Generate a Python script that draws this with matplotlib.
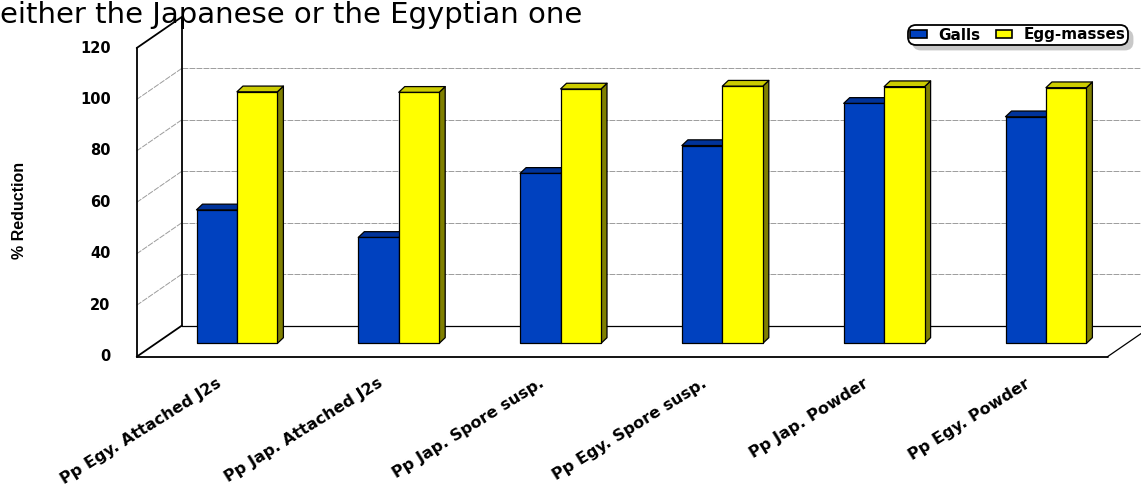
import matplotlib
matplotlib.use("Agg")
import matplotlib.pyplot as plt
from matplotlib.patches import Polygon, Patch

# ---- data -------------------------------------------------------------
categories = ["Pp Egy. Attached J2s", "Pp Jap. Attached J2s", "Pp Jap. Spore susp.",
              "Pp Egy. Spore susp.", "Pp Jap. Powder", "Pp Egy. Powder"]
galls = [51.9, 41.2, 66.1, 76.9, 93.3, 88.1]
egg_masses = [97.8, 97.6, 98.9, 100.0, 99.8, 99.4]
series_names = ["Galls", "Egg-masses"]
y_ticks = [0, 20, 40, 60, 80, 100, 120]
y_label = "% Reduction"
caption = "either the Japanese or the Egyptian one"

# ---- geometry of the pseudo-3D box (pixel scale of the canvas) -------------
W, H, DPI = 1141, 486, 100
PX_PER_CAT = 161.8          # width of one category slot on the back wall
PX_PER_UNIT = 2.5725        # vertical pixels per percentage point
ORIGIN_X, ORIGIN_Y = 181.7, 325.7   # back-wall origin, pixels from top-left
DEPTH_X, DEPTH_Y = -45.0, 31.0      # back -> front shift of the floor, pixels

X0 = -ORIGIN_X / PX_PER_CAT
X1 = (W - ORIGIN_X) / PX_PER_CAT
V0 = -(H - ORIGIN_Y) / PX_PER_UNIT
V1 = ORIGIN_Y / PX_PER_UNIT
DX = DEPTH_X / PX_PER_CAT
DV = -DEPTH_Y / PX_PER_UNIT
N = len(categories)
VMAX = y_ticks[-1]


def P(c, v, f):
    """Project a point (category position, value, depth fraction 0=back..1=front)."""
    return (c + f * DX, v + f * DV)


fig = plt.figure(figsize=(W / DPI, H / DPI), dpi=DPI)
fig.patch.set_facecolor("white")
ax = fig.add_axes([0, 0, 1, 1])
ax.set_xlim(X0, X1)
ax.set_ylim(V0, V1)
ax.axis("off")

grid_kw = dict(color="#9c9c9c", lw=0.7, dashes=(6, 1.2), zorder=1)
edge_kw = dict(color="black", lw=1.3, zorder=2, solid_capstyle="round")


def seg(p, q, **kw):
    ax.plot([p[0], q[0]], [p[1], q[1]], **kw)


# gridlines on the back wall and on the left wall
for v in y_ticks[1:-1]:
    seg(P(0, v, 0), P(N, v, 0), **grid_kw)
    seg(P(0, v, 0), P(0, v, 1), **grid_kw)

# walls and floor outline
seg(P(0, 0, 0), P(0, VMAX, 0), **edge_kw)
seg(P(0, 0, 1), P(0, VMAX, 1), **edge_kw)
seg(P(0, VMAX, 0), P(0, VMAX, 1), **edge_kw)
seg(P(0, 0, 0), P(0, 0, 1), **edge_kw)
seg(P(0, 0, 0), P(N, 0, 0), color="black", lw=0.9, zorder=2)
seg(P(0, 0, 1), P(N, 0, 1), **edge_kw)
seg(P(N, 0, 1), P(N, 0, 0), color="black", lw=0.9, zorder=2)

# ---- bars -------------------------------------------------------------
BAR_W = 0.25
F_BAR = 0.57                          # depth plane of the bar front faces
BDX = 6.0 / PX_PER_CAT                # bar depth, horizontal
BDV = 5.7 / PX_PER_UNIT               # bar depth, vertical

styles = [
    dict(front="#0041BF", top="#00339A", side="#002A80"),
    dict(front="#FFFF00", top="#CCCC00", side="#808000"),
]

face_kw = dict(edgecolor="black", linewidth=0.9, joinstyle="round", zorder=5)

for i in range(N):
    for s, vals in enumerate([galls, egg_masses]):
        val = vals[i]
        st = styles[s]
        cl = i + 0.5 - BAR_W + s * BAR_W
        cr = cl + BAR_W
        x_l, y0 = P(cl, 0, F_BAR)
        x_r, _ = P(cr, 0, F_BAR)
        y1 = y0 + val
        front = [(x_l, y0), (x_r, y0), (x_r, y1), (x_l, y1)]
        top = [(x_l, y1), (x_r, y1), (x_r + BDX, y1 + BDV), (x_l + BDX, y1 + BDV)]
        side = [(x_r, y0), (x_r + BDX, y0 + BDV), (x_r + BDX, y1 + BDV), (x_r, y1)]
        if s == len(styles) - 1:
            ax.add_patch(Polygon(side, closed=True, facecolor=st["side"], **face_kw))
        ax.add_patch(Polygon(front, closed=True, facecolor=st["front"], **face_kw))
        ax.add_patch(Polygon(top, closed=True, facecolor=st["top"], **face_kw))

# ---- tick labels ------------------------------------------------------
tick_font = dict(family="DejaVu Sans", weight="bold", size=10.5)
for v in y_ticks:
    ax.annotate(str(v), xy=P(0, v, 1), xytext=(-26, 0), textcoords="offset pixels",
                ha="right", va="center", **tick_font)

for i, name in enumerate(categories):
    ax.annotate(name, xy=P(i + 0.5, 0, 1), xytext=(-2, -19), textcoords="offset pixels",
                rotation=32, rotation_mode="anchor", ha="right", va="top",
                family="DejaVu Sans", weight="bold", size=11.5)

fig.text(20 / W, 1 - 210 / H, y_label, rotation=90, ha="center", va="center",
         family=["Liberation Sans Narrow", "Liberation Sans"], weight="bold", size=11.5)

fig.text(0.5 / W, 1 - 23 / H, caption, ha="left", va="baseline",
         family="DejaVu Sans", size=21)

# ---- legend -----------------------------------------------------------
handles = [Patch(facecolor=styles[0]["front"], edgecolor="black", linewidth=1.2),
           Patch(facecolor=styles[1]["front"], edgecolor="black", linewidth=1.2)]
leg = fig.legend(handles, series_names, loc="center",
                 bbox_to_anchor=(1018 / W, 1 - 35 / H), ncol=2,
                 prop=dict(family="DejaVu Sans", weight="bold", size=11),
                 frameon=True, fancybox=True,
                 shadow={"ox": 3.5, "oy": -3.5, "color": "#c8c8c8", "alpha": 1.0},
                 handlelength=1.05, handleheight=0.36, handletextpad=0.75,
                 columnspacing=1.05, borderpad=0.02, borderaxespad=0.0,
                 framealpha=1.0, edgecolor="black")
leg.get_frame().set_linewidth(1.3)
leg.get_frame().set_boxstyle("round,pad=0.12,rounding_size=0.5")

fig.savefig("out.png", dpi=DPI, facecolor="white")
